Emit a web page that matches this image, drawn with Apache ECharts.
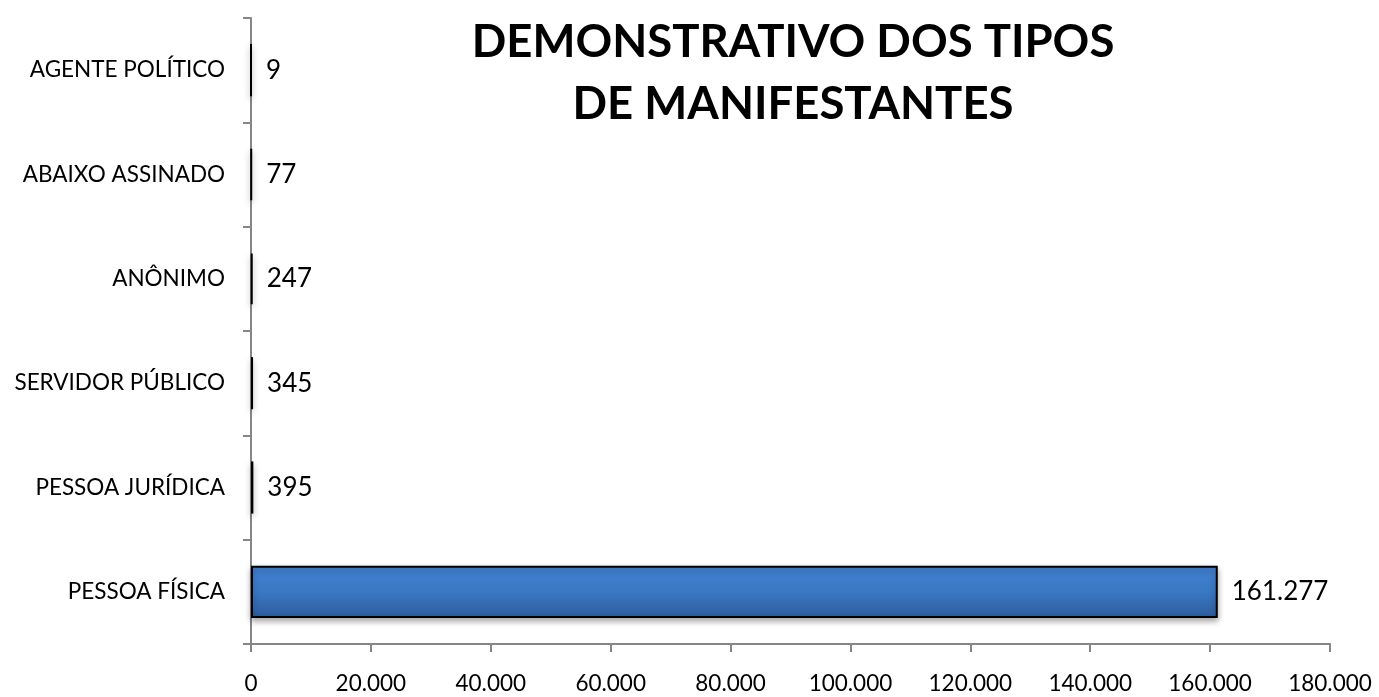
<!DOCTYPE html>
<html>
<head>
<meta charset="utf-8">
<script src="https://cdn.jsdelivr.net/npm/echarts@6/dist/echarts.min.js"></script>
<style>
  html, body { margin: 0; padding: 0; background: #fff; }
  #chart { width: 1379px; height: 697px; }
</style>
</head>
<body>
<div id="chart"></div>
<script>
// categories from bottom to top (ECharts category y axis starts at the bottom)
const categories = [
  "PESSOA FÍSICA",
  "PESSOA JURÍDICA",
  "SERVIDOR PÚBLICO",
  "ANÔNIMO",
  "ABAIXO ASSINADO",
  "AGENTE POLÍTICO",
];
const values = [161277, 395, 345, 247, 77, 9];
const titleText = "DEMONSTRATIVO DOS TIPOS\nDE MANIFESTANTES";

const fmt = (v) => Number(v).toLocaleString("pt-BR");

const chart = echarts.init(document.getElementById("chart"));
chart.setOption({
  animation: false,
  backgroundColor: "#fff",
  textStyle: { fontFamily: "Lato, 'Open Sans', sans-serif" },
  title: {
    text: titleText,
    left: 788,
    textAlign: "center",
    top: 6,
    textStyle: {
      fontFamily: "Lato, 'Open Sans', sans-serif",
      fontWeight: "bold",
      fontSize: 45.5,
      lineHeight: 62,
      color: "#000",
    },
  },
  grid: { left: 251, right: 49, top: 18, bottom: 53 },
  xAxis: {
    type: "value",
    min: 0,
    max: 180000,
    interval: 20000,
    splitLine: { show: false },
    axisLine: { show: true, lineStyle: { color: "#868686", width: 2 } },
    axisTick: { show: true, length: 8, lineStyle: { color: "#868686", width: 2 } },
    axisLabel: { color: "#000", fontSize: 22.5, margin: 28, formatter: fmt },
  },
  yAxis: {
    type: "category",
    data: categories,
    axisLine: { show: true, lineStyle: { color: "#868686", width: 2 } },
    axisTick: { show: true, length: 8, lineStyle: { color: "#868686", width: 2 } },
    axisLabel: { color: "#000", fontSize: 22.5, margin: 26 },
  },
  series: [
    {
      type: "bar",
      data: values,
      barWidth: "50%",
      itemStyle: {
        color: new echarts.graphic.LinearGradient(0, 0, 0, 1, [
          { offset: 0, color: "#4282d2" },
          { offset: 0.5, color: "#3a78c4" },
          { offset: 1, color: "#2d5d9c" },
        ]),
        borderColor: "#000",
        borderWidth: 2,
        shadowColor: "rgba(0,0,0,0.35)",
        shadowBlur: 6,
        shadowOffsetY: 3,
      },
      label: {
        show: true,
        position: "right",
        distance: 14,
        color: "#000",
        fontSize: 26,
        formatter: (p) => fmt(p.value),
      },
    },
  ],
});
</script>
</body>
</html>
